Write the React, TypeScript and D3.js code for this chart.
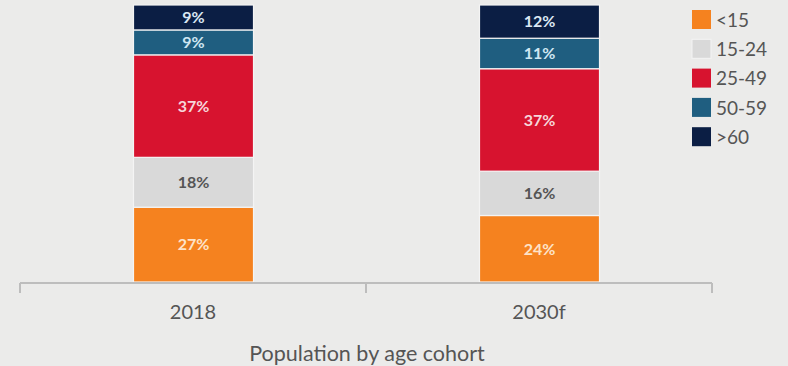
import React from "react";
import * as d3 from "d3";

const categories = ["2018", "2030f"];
const cohorts = ["<15", "15-24", "25-49", "50-59", ">60"];
const values: Record<string, number[]> = {
  "2018": [27, 18, 37, 9, 9],
  "2030f": [24, 16, 37, 11, 12],
};
const colors = ["#f5821f", "#d9d9d9", "#d7132f", "#1f5e80", "#0b1e44"];
const labelColors = ["#fde3c8", "#555555", "#f6d6da", "#cfe6f2", "#dbe7f3"];
const title = "Population by age cohort";

const W = 788, H = 366;

export default function App() {
  const x = d3.scaleBand().domain(categories).range([20, 712]).paddingInner(0).paddingOuter(0);
  const y = d3.scaleLinear().domain([0, 100]).range([282, 5]);
  const barW = 120;
  const font = "Lato, 'Open Sans', sans-serif";

  const stackData = categories.map((k) => {
    const o: any = { cat: k };
    cohorts.forEach((c, i) => (o[c] = values[k][i]));
    return o;
  });
  const series = d3.stack<any>().keys(cohorts)(stackData);

  const ticks = [20, 366, 712];

  return (
    <svg width={W} height={H} style={{ position: "absolute", left: 0, top: 0, background: "#ebebea" }}>
      <rect x={0} y={0} width={W} height={H} fill="#ebebea" />
      {series.map((s, si) =>
        s.map((d, di) => {
          const cat = categories[di];
          const cx = (x(cat) as number) + x.bandwidth() / 2 + 0.5;
          const y0 = y(d[0]);
          const y1 = y(d[1]);
          const v = d[1] - d[0];
          return (
            <g key={`${si}-${di}`}>
              <rect x={cx - barW / 2} y={y1} width={barW} height={y0 - y1} fill={colors[si]} stroke="#f4f4f4" strokeWidth={1.2} />
              <text
                x={cx}
                y={(y0 + y1) / 2}
                dy="0.36em"
                textAnchor="middle"
                fontFamily={font}
                fontWeight={700}
                fontSize={16}
                fill={labelColors[si]}
              >
                {v}%
              </text>
            </g>
          );
        })
      )}
      <line x1={20} x2={712} y1={283} y2={283} stroke="#bdbdbd" strokeWidth={2} />
      {ticks.map((t) => (
        <line key={t} x1={t} x2={t} y1={283} y2={293} stroke="#bdbdbd" strokeWidth={2} />
      ))}
      {categories.map((c) => (
        <text key={c} x={(x(c) as number) + x.bandwidth() / 2} y={312} dy="0.36em" textAnchor="middle" fontFamily={font} fontSize={20} fill="#555">
          {c}
        </text>
      ))}
      <text x={367} y={353} dy="0.36em" textAnchor="middle" fontFamily={font} fontSize={21.5} fill="#555">
        {title}
      </text>
      {cohorts.map((c, i) => (
        <g key={c} transform={`translate(692, ${10 + i * 29.3})`}>
          <rect x={0} y={0} width={19} height={19} fill={colors[i]} stroke={i === 1 ? "#f4f4f4" : "none"} />
          <text x={24} y={10} dy="0.36em" fontFamily={font} fontSize={19} fill="#555">
            {c}
          </text>
        </g>
      ))}
    </svg>
  );
}
